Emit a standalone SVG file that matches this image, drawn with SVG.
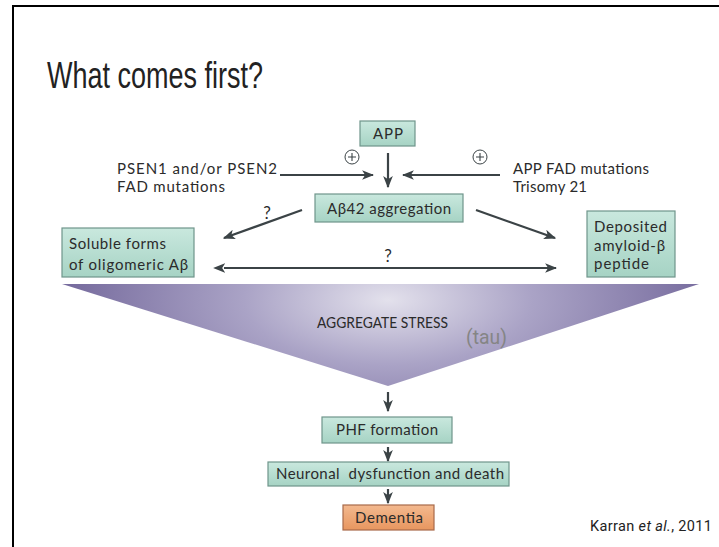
<svg xmlns="http://www.w3.org/2000/svg" width="719" height="547" viewBox="0 0 719 547">
  <style>
    .box { fill: url(#teal); stroke: #6f958b; stroke-width: 1.2; }
    .orange { fill: url(#orng); stroke: #a86a4a; stroke-width: 1.2; }
    .lbl { font-family: Lato, "Open Sans", sans-serif; font-size: 15px; fill: #2b2b2b; }
    .mid { text-anchor: middle; }
    .q { font-family: Lato, "Open Sans", sans-serif; font-size: 17px; fill: #2b2b2b; text-anchor: middle; }
    .conn line { stroke: #3b4346; stroke-width: 2.2; }
    .plus { fill: #ffffff; stroke: #3b4346; stroke-width: 1; }
  </style>
  <defs>
    <linearGradient id="teal" x1="0" y1="0" x2="0" y2="1">
      <stop offset="0" stop-color="#c9e8de"/>
      <stop offset="1" stop-color="#a6d3c4"/>
    </linearGradient>
    <linearGradient id="orng" x1="0" y1="0" x2="0" y2="1">
      <stop offset="0" stop-color="#f3b98f"/>
      <stop offset="1" stop-color="#e8965f"/>
    </linearGradient>
    <radialGradient id="funnel" cx="388" cy="300" r="320" gradientUnits="userSpaceOnUse" gradientTransform="translate(388 300) scale(1 0.45) translate(-388 -300)">
      <stop offset="0" stop-color="#e3e1ec"/>
      <stop offset="0.45" stop-color="#aaa3c6"/>
      <stop offset="1" stop-color="#776c9e"/>
    </radialGradient>
    <marker id="ah" viewBox="0 0 10 8" refX="9" refY="4" markerWidth="5.5" markerHeight="4.4" markerUnits="strokeWidth" orient="auto">
      <path d="M0,0 L10,4 L0,8 L2.5,4 Z" fill="#3b4346"/>
    </marker>
    <marker id="ahs" viewBox="0 0 10 8" refX="1" refY="4" markerWidth="5.5" markerHeight="4.4" markerUnits="strokeWidth" orient="auto-start-reverse">
      <path d="M0,0 L10,4 L0,8 L2.5,4 Z" fill="#3b4346"/>
    </marker>
  </defs>

  <!-- slide frame -->
  <rect x="13" y="6" width="720" height="560" fill="none" stroke="#000" stroke-width="2"/>

  <!-- heading -->
  <text x="47" y="88" font-family="'Liberation Sans', Arial, sans-serif" font-size="37" fill="#222" textLength="216" lengthAdjust="spacingAndGlyphs">What comes first?</text>

  <!-- funnel -->
  <g id="aggregate-stress">
    <polygon points="62,284 699,284 388,386" fill="url(#funnel)"/>
    <text class="lbl" x="317" y="328" font-size="15" textLength="131" lengthAdjust="spacingAndGlyphs">AGGREGATE STRESS</text>
    <text x="466" y="344" font-family="Roboto, 'Open Sans', sans-serif" font-size="20" fill="#858585" textLength="41" lengthAdjust="spacingAndGlyphs">(tau)</text>
  </g>

  <!-- connectors -->
  <g class="conn">
    <line x1="388" y1="153" x2="388" y2="187" marker-end="url(#ah)"/>
    <line x1="280" y1="175" x2="373" y2="175" marker-end="url(#ah)"/>
    <line x1="500" y1="175" x2="403" y2="175" marker-end="url(#ah)"/>
    <line x1="302" y1="210" x2="224" y2="238" marker-end="url(#ah)"/>
    <line x1="476" y1="210" x2="555" y2="238" marker-end="url(#ah)"/>
    <line x1="224" y1="268" x2="556" y2="268" marker-start="url(#ahs)" marker-end="url(#ah)"/>
    <line x1="388" y1="392" x2="388" y2="411" marker-end="url(#ah)"/>
    <line x1="388" y1="447" x2="388" y2="461" marker-end="url(#ah)"/>
    <line x1="388" y1="489" x2="388" y2="503" marker-end="url(#ah)"/>
  </g>

  <!-- promoting signs and unknown links -->
  <g id="signs">
    <circle class="plus" cx="352" cy="157" r="7"/>
    <path d="M348,157 H356 M352,153 V161" stroke="#3b4346" stroke-width="1.1"/>
    <circle class="plus" cx="480" cy="157" r="7"/>
    <path d="M476,157 H484 M480,153 V161" stroke="#3b4346" stroke-width="1.1"/>
    <text class="q" x="267" y="219">?</text>
    <text class="q" x="388" y="262">?</text>
  </g>

  <g id="psen">
    <text class="lbl" x="117" y="174" textLength="160">PSEN1 and/or PSEN2</text>
    <text class="lbl" x="117" y="192" textLength="108">FAD mutations</text>
  </g>
  <g id="app-fad">
    <text class="lbl" x="513" y="174" textLength="136">APP FAD mutations</text>
    <text class="lbl" x="513" y="192" textLength="74">Trisomy 21</text>
  </g>

  <g id="app">
    <rect class="box" x="360" y="121" width="55" height="25"/>
    <text class="lbl" x="373" y="139" textLength="30">APP</text>
  </g>
  <g id="abeta42">
    <rect class="box" x="315" y="194" width="148" height="28"/>
    <text class="lbl" x="327" y="213.5" textLength="124">Aβ42 aggregation</text>
  </g>
  <g id="soluble">
    <rect class="box" x="62" y="228" width="132" height="49"/>
    <text class="lbl" x="69" y="249" textLength="97">Soluble forms</text>
    <text class="lbl" x="69" y="269.5" textLength="119">of oligomeric Aβ</text>
  </g>
  <g id="deposited">
    <rect class="box" x="587" y="211" width="88" height="66"/>
    <text class="lbl" x="594" y="232" textLength="73">Deposited</text>
    <text class="lbl" x="594" y="250.5" textLength="71">amyloid-β</text>
    <text class="lbl" x="594" y="269" textLength="55">peptide</text>
  </g>
  <g id="phf">
    <rect class="box" x="322" y="417" width="130" height="26"/>
    <text class="lbl" x="336" y="435" textLength="102">PHF formation</text>
  </g>
  <g id="neuronal">
    <rect class="box" x="268" y="462" width="241" height="24"/>
    <text class="lbl" x="276" y="479" textLength="228" xml:space="preserve">Neuronal  dysfunction and death</text>
  </g>
  <g id="dementia">
    <rect class="orange" x="343" y="505" width="91" height="25"/>
    <text class="lbl" x="355" y="522.5" textLength="68">Dementia</text>
  </g>

  <text x="590" y="531" font-family="Roboto, 'Open Sans', sans-serif" font-size="14.5" fill="#222" textLength="122">Karran <tspan font-style="italic">et al.</tspan>, 2011</text>
</svg>
